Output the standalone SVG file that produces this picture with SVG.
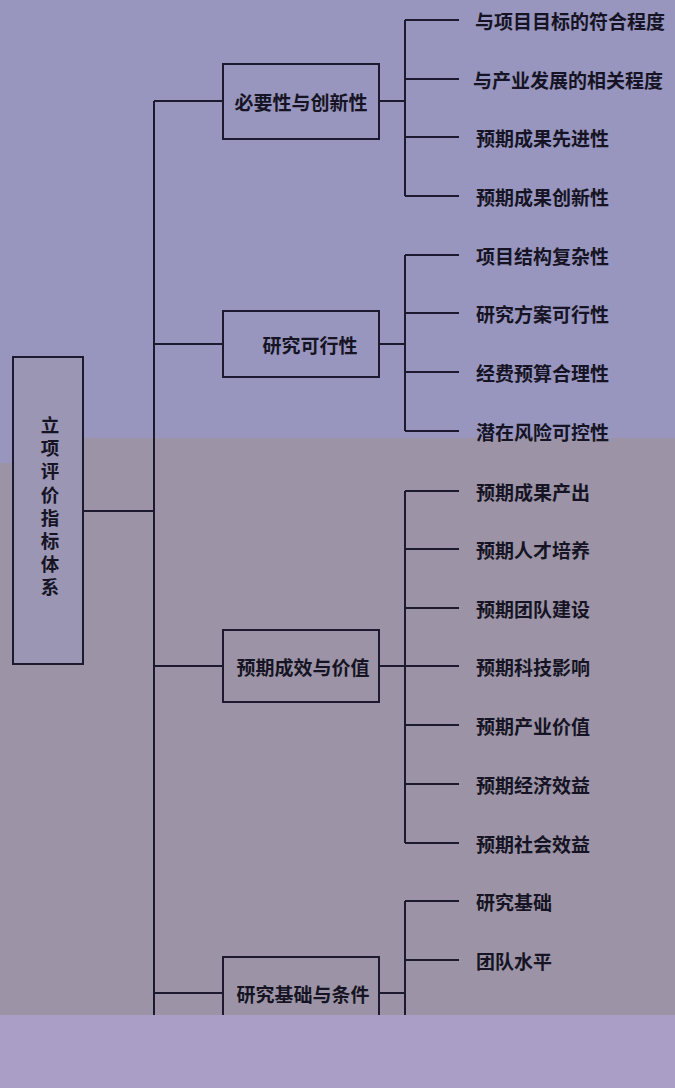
<svg xmlns="http://www.w3.org/2000/svg" width="675" height="1088" viewBox="0 0 675 1088">
<style>
.ln{stroke:#1d1a30;stroke-width:2;fill:none}
.bx{stroke:#1d1a30;stroke-width:2}
.t{font-family:"Noto Sans CJK SC","Noto Sans CJK TC",sans-serif;font-weight:bold;font-size:19px;fill:#161424;dominant-baseline:central}
.v{font-family:"Noto Sans CJK SC","Noto Sans CJK TC",sans-serif;font-weight:bold;font-size:18.5px;fill:#161424;writing-mode:tb;letter-spacing:4.6px}
</style>
<rect x="0" y="0" width="675" height="1088" fill="#9c94a6"/>
<path d="M0 0H675V438H37V463H0Z" fill="#9896be"/>
<g id="connectors" class="ln">
<path d="M83 511H154M154 101V1015M154 101H223M154 344H223M154 666H223M154 993H223"/>
<path d="M379 101H405M405 20V196M405 20H459M405 79H459M405 137H459M405 196H459"/>
<path d="M379 344H405M405 255V431M405 255H459M405 313H459M405 372H459M405 431H459"/>
<path d="M379 666H405M405 491V843M405 491H459M405 549H459M405 608H459M405 666H459M405 725H459M405 784H459M405 843H459"/>
<path d="M379 993H405M405 901V1015M405 901H459M405 960H459M405 1019H459"/>
</g>
<g id="root">
<rect class="bx" x="13" y="357" width="70" height="307" fill="#9a96b4"/>
<text class="v" x="50" y="416">立项评价指标体系</text>
</g>
<g id="g1"><rect class="bx" x="223" y="64" width="156" height="75" fill="#9896be"/><text class="t" x="301" y="101" text-anchor="middle">必要性与创新性</text></g>
<g id="g2"><rect class="bx" x="223" y="311" width="156" height="66" fill="#9896be"/><text class="t" x="310" y="344" text-anchor="middle">研究可行性</text></g>
<g id="g3"><rect class="bx" x="223" y="630" width="156" height="72" fill="#9c94a6"/><text class="t" x="303" y="666" text-anchor="middle">预期成效与价值</text></g>
<g id="g4"><rect class="bx" x="223" y="957" width="156" height="80" fill="#9c94a6"/><text class="t" x="303" y="993" text-anchor="middle">研究基础与条件</text></g>
<g id="leaves" class="t">
<text x="475" y="20">与项目目标的符合程度</text>
<text x="473" y="79">与产业发展的相关程度</text>
<text x="476" y="137">预期成果先进性</text>
<text x="476" y="196">预期成果创新性</text>
<text x="476" y="255">项目结构复杂性</text>
<text x="476" y="313">研究方案可行性</text>
<text x="476" y="372">经费预算合理性</text>
<text x="476" y="431">潜在风险可控性</text>
<text x="476" y="491">预期成果产出</text>
<text x="476" y="549">预期人才培养</text>
<text x="476" y="608">预期团队建设</text>
<text x="476" y="666">预期科技影响</text>
<text x="476" y="725">预期产业价值</text>
<text x="476" y="784">预期经济效益</text>
<text x="476" y="843">预期社会效益</text>
<text x="476" y="901">研究基础</text>
<text x="476" y="960">团队水平</text>
</g>
<rect x="0" y="1015" width="675" height="73" fill="#aa9ec6"/>
</svg>
